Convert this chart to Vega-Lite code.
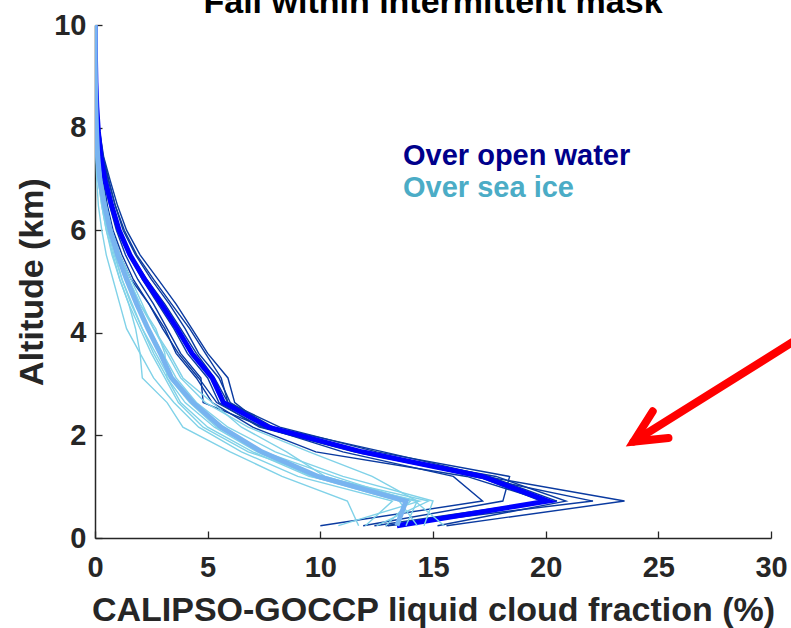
{
"$schema":"https://vega.github.io/schema/vega-lite/v6.json",
"width":676,"height":513,
"autosize":{"type":"none"},
"padding":{"left":95,"top":25,"right":20,"bottom":90},
"background":"white",
"title":{"text":"Fall within intermittent mask","fontSize":34,"font":"Liberation Sans","fontWeight":"bold","color":"#000000","offset":0,"dy":9,"anchor":"middle","frame":"group"},
"config":{"view":{"stroke":null},
 "axis":{"grid":false,"domainColor":"#262626","domainWidth":1.5,"tickColor":"#262626","tickWidth":1.3,"labelFont":"Liberation Sans","labelFontWeight":"bold","labelColor":"#262626","titleFont":"Liberation Sans","titleFontWeight":"bold","titleColor":"#262626","labelFlush":false,"labelOverlap":false,"labelBound":false}},
"datasets":{
"wthin":[
{"id":"D1","alt":0.24,"f":10.0},{"id":"D1","alt":0.72,"f":17.2},{"id":"D1","alt":1.2,"f":15.9},{"id":"D1","alt":1.68,"f":11.0},{"id":"D1","alt":2.16,"f":7.5},{"id":"D1","alt":2.64,"f":4.8},{"id":"D1","alt":3.12,"f":4.7},{"id":"D1","alt":3.6,"f":3.8},{"id":"D1","alt":4.08,"f":3.2},{"id":"D1","alt":4.56,"f":2.6},{"id":"D1","alt":5.04,"f":1.9},{"id":"D1","alt":5.52,"f":1.35},{"id":"D1","alt":6.0,"f":0.95},{"id":"D1","alt":6.48,"f":0.65},{"id":"D1","alt":6.96,"f":0.42},{"id":"D1","alt":7.44,"f":0.26},{"id":"D1","alt":7.92,"f":0.15},{"id":"D1","alt":8.4,"f":0.08},{"id":"D1","alt":8.88,"f":0.04},{"id":"D1","alt":9.36,"f":0.02},{"id":"D1","alt":9.84,"f":0.01},{"id":"D1","alt":10.32,"f":0.01},
{"id":"D2","alt":0.24,"f":11.9},{"id":"D2","alt":0.72,"f":18.1},{"id":"D2","alt":1.2,"f":18.4},{"id":"D2","alt":1.68,"f":12.5},{"id":"D2","alt":2.16,"f":8.2},{"id":"D2","alt":2.64,"f":5.9},{"id":"D2","alt":3.12,"f":5.6},{"id":"D2","alt":3.6,"f":4.9},{"id":"D2","alt":4.08,"f":4.2},{"id":"D2","alt":4.56,"f":3.4},{"id":"D2","alt":5.04,"f":2.6},{"id":"D2","alt":5.52,"f":1.85},{"id":"D2","alt":6.0,"f":1.3},{"id":"D2","alt":6.48,"f":0.9},{"id":"D2","alt":6.96,"f":0.6},{"id":"D2","alt":7.44,"f":0.34},{"id":"D2","alt":7.92,"f":0.18},{"id":"D2","alt":8.4,"f":0.09},{"id":"D2","alt":8.88,"f":0.05},{"id":"D2","alt":9.36,"f":0.02},{"id":"D2","alt":9.84,"f":0.01},{"id":"D2","alt":10.32,"f":0.01},
{"id":"D3","alt":0.24,"f":12.9},{"id":"D3","alt":0.72,"f":20.5},{"id":"D3","alt":1.2,"f":17.5},{"id":"D3","alt":1.68,"f":12.8},{"id":"D3","alt":2.16,"f":7.9},{"id":"D3","alt":2.64,"f":6.0},{"id":"D3","alt":3.12,"f":5.5},{"id":"D3","alt":3.6,"f":4.6},{"id":"D3","alt":4.08,"f":4.0},{"id":"D3","alt":4.56,"f":3.3},{"id":"D3","alt":5.04,"f":2.5},{"id":"D3","alt":5.52,"f":1.8},{"id":"D3","alt":6.0,"f":1.25},{"id":"D3","alt":6.48,"f":0.9},{"id":"D3","alt":6.96,"f":0.62},{"id":"D3","alt":7.44,"f":0.36},{"id":"D3","alt":7.92,"f":0.2},{"id":"D3","alt":8.4,"f":0.1},{"id":"D3","alt":8.88,"f":0.05},{"id":"D3","alt":9.36,"f":0.03},{"id":"D3","alt":9.84,"f":0.01},{"id":"D3","alt":10.32,"f":0.01},
{"id":"D4","alt":0.24,"f":15.2},{"id":"D4","alt":0.72,"f":20.9},{"id":"D4","alt":1.2,"f":17.8},{"id":"D4","alt":1.68,"f":11.6},{"id":"D4","alt":2.16,"f":7.4},{"id":"D4","alt":2.64,"f":5.4},{"id":"D4","alt":3.12,"f":4.6},{"id":"D4","alt":3.6,"f":3.7},{"id":"D4","alt":4.08,"f":3.0},{"id":"D4","alt":4.56,"f":2.4},{"id":"D4","alt":5.04,"f":1.7},{"id":"D4","alt":5.52,"f":1.2},{"id":"D4","alt":6.0,"f":0.8},{"id":"D4","alt":6.48,"f":0.55},{"id":"D4","alt":6.96,"f":0.38},{"id":"D4","alt":7.44,"f":0.22},{"id":"D4","alt":7.92,"f":0.13},{"id":"D4","alt":8.4,"f":0.07},{"id":"D4","alt":8.88,"f":0.04},{"id":"D4","alt":9.36,"f":0.02},{"id":"D4","alt":9.84,"f":0.01},{"id":"D4","alt":10.32,"f":0.01},
{"id":"D5","alt":0.24,"f":15.6},{"id":"D5","alt":0.72,"f":23.5},{"id":"D5","alt":1.2,"f":17.3},{"id":"D5","alt":1.68,"f":11.8},{"id":"D5","alt":2.16,"f":7.8},{"id":"D5","alt":2.64,"f":5.9},{"id":"D5","alt":3.12,"f":5.3},{"id":"D5","alt":3.6,"f":4.5},{"id":"D5","alt":4.08,"f":3.8},{"id":"D5","alt":4.56,"f":3.1},{"id":"D5","alt":5.04,"f":2.3},{"id":"D5","alt":5.52,"f":1.6},{"id":"D5","alt":6.0,"f":1.1},{"id":"D5","alt":6.48,"f":0.8},{"id":"D5","alt":6.96,"f":0.55},{"id":"D5","alt":7.44,"f":0.3},{"id":"D5","alt":7.92,"f":0.17},{"id":"D5","alt":8.4,"f":0.09},{"id":"D5","alt":8.88,"f":0.05},{"id":"D5","alt":9.36,"f":0.02},{"id":"D5","alt":9.84,"f":0.01},{"id":"D5","alt":10.32,"f":0.01},
{"id":"D6","alt":0.24,"f":13.0},{"id":"D6","alt":0.72,"f":22.1},{"id":"D6","alt":1.2,"f":16.8},{"id":"D6","alt":1.68,"f":12.0},{"id":"D6","alt":2.16,"f":7.6},{"id":"D6","alt":2.64,"f":6.2},{"id":"D6","alt":3.12,"f":5.9},{"id":"D6","alt":3.6,"f":5.0},{"id":"D6","alt":4.08,"f":4.3},{"id":"D6","alt":4.56,"f":3.6},{"id":"D6","alt":5.04,"f":2.8},{"id":"D6","alt":5.52,"f":2.0},{"id":"D6","alt":6.0,"f":1.4},{"id":"D6","alt":6.48,"f":1.0},{"id":"D6","alt":6.96,"f":0.68},{"id":"D6","alt":7.44,"f":0.38},{"id":"D6","alt":7.92,"f":0.21},{"id":"D6","alt":8.4,"f":0.1},{"id":"D6","alt":8.88,"f":0.05},{"id":"D6","alt":9.36,"f":0.03},{"id":"D6","alt":9.84,"f":0.01},{"id":"D6","alt":10.32,"f":0.01},
{"id":"D7","alt":0.24,"f":12.4},{"id":"D7","alt":0.72,"f":20.0},{"id":"D7","alt":1.2,"f":16.5},{"id":"D7","alt":1.68,"f":9.8},{"id":"D7","alt":2.16,"f":7.0},{"id":"D7","alt":2.64,"f":5.2},{"id":"D7","alt":3.12,"f":4.5},{"id":"D7","alt":3.6,"f":3.6},{"id":"D7","alt":4.08,"f":3.1},{"id":"D7","alt":4.56,"f":2.4},{"id":"D7","alt":5.04,"f":1.6},{"id":"D7","alt":5.52,"f":1.1},{"id":"D7","alt":6.0,"f":0.75},{"id":"D7","alt":6.48,"f":0.5},{"id":"D7","alt":6.96,"f":0.33},{"id":"D7","alt":7.44,"f":0.2},{"id":"D7","alt":7.92,"f":0.11},{"id":"D7","alt":8.4,"f":0.06},{"id":"D7","alt":8.88,"f":0.03},{"id":"D7","alt":9.36,"f":0.02},{"id":"D7","alt":9.84,"f":0.01},{"id":"D7","alt":10.32,"f":0.01},
{"id":"D8","alt":0.24,"f":13.6},{"id":"D8","alt":0.72,"f":19.8},{"id":"D8","alt":1.2,"f":17.0},{"id":"D8","alt":1.68,"f":11.5},{"id":"D8","alt":2.16,"f":7.3},{"id":"D8","alt":2.64,"f":5.5},{"id":"D8","alt":3.12,"f":5.0},{"id":"D8","alt":3.6,"f":4.1},{"id":"D8","alt":4.08,"f":3.5},{"id":"D8","alt":4.56,"f":2.8},{"id":"D8","alt":5.04,"f":2.1},{"id":"D8","alt":5.52,"f":1.5},{"id":"D8","alt":6.0,"f":1.0},{"id":"D8","alt":6.48,"f":0.7},{"id":"D8","alt":6.96,"f":0.48},{"id":"D8","alt":7.44,"f":0.28},{"id":"D8","alt":7.92,"f":0.15},{"id":"D8","alt":8.4,"f":0.08},{"id":"D8","alt":8.88,"f":0.04},{"id":"D8","alt":9.36,"f":0.02},{"id":"D8","alt":9.84,"f":0.01},{"id":"D8","alt":10.32,"f":0.01}
],
"wmean":[
{"alt":0.24,"f":13.4},{"alt":0.72,"f":20.1},{"alt":1.2,"f":17.2},{"alt":1.68,"f":11.85},{"alt":2.16,"f":7.7},{"alt":2.64,"f":5.7},{"alt":3.12,"f":5.2},{"alt":3.6,"f":4.3},{"alt":4.08,"f":3.65},{"alt":4.56,"f":2.95},{"alt":5.04,"f":2.2},{"alt":5.52,"f":1.55},{"alt":6.0,"f":1.07},{"alt":6.48,"f":0.74},{"alt":6.96,"f":0.45},{"alt":7.44,"f":0.26},{"alt":7.92,"f":0.15},{"alt":8.4,"f":0.08},{"alt":8.88,"f":0.04},{"alt":9.36,"f":0.02},{"alt":9.84,"f":0.01},{"alt":10.32,"f":0.01}
],
"ithin":[
{"id":"L1","alt":0.24,"f":11.7},{"id":"L1","alt":0.72,"f":11.2},{"id":"L1","alt":1.2,"f":8.3},{"id":"L1","alt":1.68,"f":6.0},{"id":"L1","alt":2.16,"f":3.9},{"id":"L1","alt":2.64,"f":3.2},{"id":"L1","alt":3.12,"f":2.1},{"id":"L1","alt":3.6,"f":2.0},{"id":"L1","alt":4.08,"f":1.8},{"id":"L1","alt":4.56,"f":1.5},{"id":"L1","alt":5.04,"f":1.1},{"id":"L1","alt":5.52,"f":0.8},{"id":"L1","alt":6.0,"f":0.5},{"id":"L1","alt":6.48,"f":0.3},{"id":"L1","alt":6.96,"f":0.15},{"id":"L1","alt":7.44,"f":0.08},{"id":"L1","alt":7.92,"f":0.04},{"id":"L1","alt":8.4,"f":0.02},{"id":"L1","alt":8.88,"f":0.01},{"id":"L1","alt":9.36,"f":0.01},{"id":"L1","alt":9.84,"f":0.0},{"id":"L1","alt":10.32,"f":0.0},
{"id":"L2","alt":0.24,"f":10.8},{"id":"L2","alt":0.72,"f":14.4},{"id":"L2","alt":1.2,"f":9.5},{"id":"L2","alt":1.68,"f":7.0},{"id":"L2","alt":2.16,"f":5.0},{"id":"L2","alt":2.64,"f":3.8},{"id":"L2","alt":3.12,"f":3.2},{"id":"L2","alt":3.6,"f":3.1},{"id":"L2","alt":4.08,"f":2.7},{"id":"L2","alt":4.56,"f":2.0},{"id":"L2","alt":5.04,"f":1.5},{"id":"L2","alt":5.52,"f":1.05},{"id":"L2","alt":6.0,"f":0.7},{"id":"L2","alt":6.48,"f":0.45},{"id":"L2","alt":6.96,"f":0.25},{"id":"L2","alt":7.44,"f":0.13},{"id":"L2","alt":7.92,"f":0.07},{"id":"L2","alt":8.4,"f":0.04},{"id":"L2","alt":8.88,"f":0.02},{"id":"L2","alt":9.36,"f":0.01},{"id":"L2","alt":9.84,"f":0.0},{"id":"L2","alt":10.32,"f":0.0},
{"id":"L3","alt":0.24,"f":14.6},{"id":"L3","alt":0.72,"f":15.0},{"id":"L3","alt":1.2,"f":11.0},{"id":"L3","alt":1.68,"f":8.0},{"id":"L3","alt":2.16,"f":5.9},{"id":"L3","alt":2.64,"f":4.5},{"id":"L3","alt":3.12,"f":3.6},{"id":"L3","alt":3.6,"f":3.0},{"id":"L3","alt":4.08,"f":2.4},{"id":"L3","alt":4.56,"f":1.9},{"id":"L3","alt":5.04,"f":1.5},{"id":"L3","alt":5.52,"f":1.05},{"id":"L3","alt":6.0,"f":0.7},{"id":"L3","alt":6.48,"f":0.4},{"id":"L3","alt":6.96,"f":0.2},{"id":"L3","alt":7.44,"f":0.1},{"id":"L3","alt":7.92,"f":0.05},{"id":"L3","alt":8.4,"f":0.03},{"id":"L3","alt":8.88,"f":0.01},{"id":"L3","alt":9.36,"f":0.01},{"id":"L3","alt":9.84,"f":0.0},{"id":"L3","alt":10.32,"f":0.0},
{"id":"L4","alt":0.24,"f":15.5},{"id":"L4","alt":0.72,"f":14.2},{"id":"L4","alt":1.2,"f":10.2},{"id":"L4","alt":1.68,"f":8.5},{"id":"L4","alt":2.16,"f":6.5},{"id":"L4","alt":2.64,"f":5.2},{"id":"L4","alt":3.12,"f":3.9},{"id":"L4","alt":3.6,"f":3.3},{"id":"L4","alt":4.08,"f":2.6},{"id":"L4","alt":4.56,"f":2.1},{"id":"L4","alt":5.04,"f":1.6},{"id":"L4","alt":5.52,"f":1.1},{"id":"L4","alt":6.0,"f":0.75},{"id":"L4","alt":6.48,"f":0.5},{"id":"L4","alt":6.96,"f":0.3},{"id":"L4","alt":7.44,"f":0.15},{"id":"L4","alt":7.92,"f":0.08},{"id":"L4","alt":8.4,"f":0.04},{"id":"L4","alt":8.88,"f":0.02},{"id":"L4","alt":9.36,"f":0.01},{"id":"L4","alt":9.84,"f":0.0},{"id":"L4","alt":10.32,"f":0.0},
{"id":"L5","alt":0.24,"f":12.9},{"id":"L5","alt":0.72,"f":14.0},{"id":"L5","alt":1.2,"f":10.6},{"id":"L5","alt":1.68,"f":7.5},{"id":"L5","alt":2.16,"f":5.4},{"id":"L5","alt":2.64,"f":4.2},{"id":"L5","alt":3.12,"f":3.3},{"id":"L5","alt":3.6,"f":2.7},{"id":"L5","alt":4.08,"f":2.1},{"id":"L5","alt":4.56,"f":1.65},{"id":"L5","alt":5.04,"f":1.2},{"id":"L5","alt":5.52,"f":0.85},{"id":"L5","alt":6.0,"f":0.55},{"id":"L5","alt":6.48,"f":0.35},{"id":"L5","alt":6.96,"f":0.18},{"id":"L5","alt":7.44,"f":0.09},{"id":"L5","alt":7.92,"f":0.05},{"id":"L5","alt":8.4,"f":0.02},{"id":"L5","alt":8.88,"f":0.01},{"id":"L5","alt":9.36,"f":0.01},{"id":"L5","alt":9.84,"f":0.0},{"id":"L5","alt":10.32,"f":0.0},
{"id":"L6","alt":0.24,"f":14.3},{"id":"L6","alt":0.72,"f":13.5},{"id":"L6","alt":1.2,"f":9.6},{"id":"L6","alt":1.68,"f":7.2},{"id":"L6","alt":2.16,"f":5.3},{"id":"L6","alt":2.64,"f":4.0},{"id":"L6","alt":3.12,"f":3.2},{"id":"L6","alt":3.6,"f":2.6},{"id":"L6","alt":4.08,"f":2.1},{"id":"L6","alt":4.56,"f":1.6},{"id":"L6","alt":5.04,"f":1.2},{"id":"L6","alt":5.52,"f":0.9},{"id":"L6","alt":6.0,"f":0.6},{"id":"L6","alt":6.48,"f":0.35},{"id":"L6","alt":6.96,"f":0.2},{"id":"L6","alt":7.44,"f":0.1},{"id":"L6","alt":7.92,"f":0.05},{"id":"L6","alt":8.4,"f":0.03},{"id":"L6","alt":8.88,"f":0.01},{"id":"L6","alt":9.36,"f":0.01},{"id":"L6","alt":9.84,"f":0.0},{"id":"L6","alt":10.32,"f":0.0},
{"id":"L7","alt":0.24,"f":12.5},{"id":"L7","alt":0.72,"f":14.8},{"id":"L7","alt":1.2,"f":10.0},{"id":"L7","alt":1.68,"f":6.8},{"id":"L7","alt":2.16,"f":4.8},{"id":"L7","alt":2.64,"f":3.7},{"id":"L7","alt":3.12,"f":3.1},{"id":"L7","alt":3.6,"f":2.5},{"id":"L7","alt":4.08,"f":2.0},{"id":"L7","alt":4.56,"f":1.5},{"id":"L7","alt":5.04,"f":1.1},{"id":"L7","alt":5.52,"f":0.75},{"id":"L7","alt":6.0,"f":0.5},{"id":"L7","alt":6.48,"f":0.3},{"id":"L7","alt":6.96,"f":0.15},{"id":"L7","alt":7.44,"f":0.08},{"id":"L7","alt":7.92,"f":0.04},{"id":"L7","alt":8.4,"f":0.02},{"id":"L7","alt":8.88,"f":0.01},{"id":"L7","alt":9.36,"f":0.01},{"id":"L7","alt":9.84,"f":0.0},{"id":"L7","alt":10.32,"f":0.0},
{"id":"L8","alt":0.24,"f":13.8},{"id":"L8","alt":0.72,"f":14.3},{"id":"L8","alt":1.2,"f":12.3},{"id":"L8","alt":1.68,"f":9.5},{"id":"L8","alt":2.16,"f":6.8},{"id":"L8","alt":2.64,"f":4.9},{"id":"L8","alt":3.12,"f":3.8},{"id":"L8","alt":3.6,"f":3.2},{"id":"L8","alt":4.08,"f":2.6},{"id":"L8","alt":4.56,"f":2.0},{"id":"L8","alt":5.04,"f":1.5},{"id":"L8","alt":5.52,"f":1.1},{"id":"L8","alt":6.0,"f":0.7},{"id":"L8","alt":6.48,"f":0.45},{"id":"L8","alt":6.96,"f":0.25},{"id":"L8","alt":7.44,"f":0.13},{"id":"L8","alt":7.92,"f":0.07},{"id":"L8","alt":8.4,"f":0.04},{"id":"L8","alt":8.88,"f":0.02},{"id":"L8","alt":9.36,"f":0.01},{"id":"L8","alt":9.84,"f":0.0},{"id":"L8","alt":10.32,"f":0.0},
{"id":"L9","alt":0.24,"f":12.0},{"id":"L9","alt":0.72,"f":13.2},{"id":"L9","alt":1.2,"f":9.0},{"id":"L9","alt":1.68,"f":6.5},{"id":"L9","alt":2.16,"f":4.6},{"id":"L9","alt":2.64,"f":3.5},{"id":"L9","alt":3.12,"f":2.6},{"id":"L9","alt":3.6,"f":2.0},{"id":"L9","alt":4.08,"f":1.4},{"id":"L9","alt":4.56,"f":1.1},{"id":"L9","alt":5.04,"f":0.8},{"id":"L9","alt":5.52,"f":0.5},{"id":"L9","alt":6.0,"f":0.3},{"id":"L9","alt":6.48,"f":0.15},{"id":"L9","alt":6.96,"f":0.08},{"id":"L9","alt":7.44,"f":0.04},{"id":"L9","alt":7.92,"f":0.02},{"id":"L9","alt":8.4,"f":0.01},{"id":"L9","alt":8.88,"f":0.01},{"id":"L9","alt":9.36,"f":0.0},{"id":"L9","alt":9.84,"f":0.0},{"id":"L9","alt":10.32,"f":0.0}
],
"imean":[
{"alt":0.24,"f":13.4},{"alt":0.72,"f":13.8},{"alt":1.2,"f":9.9},{"alt":1.68,"f":7.4},{"alt":2.16,"f":5.6},{"alt":2.64,"f":4.35},{"alt":3.12,"f":3.4},{"alt":3.6,"f":2.9},{"alt":4.08,"f":2.35},{"alt":4.56,"f":1.85},{"alt":5.04,"f":1.4},{"alt":5.52,"f":1.0},{"alt":6.0,"f":0.67},{"alt":6.48,"f":0.42},{"alt":6.96,"f":0.22},{"alt":7.44,"f":0.12},{"alt":7.92,"f":0.07},{"alt":8.4,"f":0.04},{"alt":8.88,"f":0.02},{"alt":9.36,"f":0.01},{"alt":9.84,"f":0.01},{"alt":10.32,"f":0.01}
],
"arrow":[
{"seg":"shaft","o":1,"f":23.9,"alt":1.88},{"seg":"shaft","o":2,"f":31.29,"alt":3.91},
{"seg":"head","o":1,"f":24.75,"alt":2.47},{"seg":"head","o":2,"f":23.9,"alt":1.88},{"seg":"head","o":3,"f":25.45,"alt":1.95}
],
"labels":[
{"label":"Over open water","grp":"water","f":13.67,"alt":7.27},
{"label":"Over sea ice","grp":"ice","f":13.67,"alt":6.65}
]
},
"encoding":{
 "x":{"field":"f","type":"quantitative","scale":{"domain":[0,30],"nice":false,"zero":false},
  "axis":{"values":[0,5,10,15,20,25,30],"title":"CALIPSO-GOCCP liquid cloud fraction (%)","labelFontSize":29,"titleFontSize":34,"tickSize":-7,"labelPadding":22,"titlePadding":11}},
 "y":{"field":"alt","type":"quantitative","scale":{"domain":[0,10],"nice":false,"zero":false},
  "axis":{"values":[0,2,4,6,8,10],"title":"Altitude (km)","labelFontSize":29,"titleFontSize":34,"tickSize":-7,"labelPadding":16,"titlePadding":4}}
},
"layer":[
 {"data":{"name":"wthin"},"mark":{"type":"line","clip":true,"color":"#0a3aa0","strokeWidth":1.4},
  "encoding":{"detail":{"field":"id"},"order":{"field":"alt","type":"quantitative"}}},
 {"data":{"name":"wmean"},"mark":{"type":"line","clip":true,"color":"#0000ff","strokeWidth":5,"strokeJoin":"miter"},
  "encoding":{"order":{"field":"alt","type":"quantitative"}}},
 {"data":{"name":"ithin"},"mark":{"type":"line","clip":true,"color":"#80d2e8","strokeWidth":1.4},
  "encoding":{"detail":{"field":"id"},"order":{"field":"alt","type":"quantitative"}}},
 {"data":{"name":"imean"},"mark":{"type":"line","clip":true,"color":"#78b4f0","strokeWidth":5,"strokeJoin":"miter"},
  "encoding":{"order":{"field":"alt","type":"quantitative"}}},
 {"data":{"name":"arrow"},"mark":{"type":"line","clip":false,"color":"#ff0000","strokeWidth":8,"strokeCap":"round","strokeJoin":"miter"},
  "encoding":{"detail":{"field":"seg"},"order":{"field":"o","type":"quantitative"}}},
 {"data":{"name":"labels"},"mark":{"type":"text","align":"left","baseline":"alphabetic","font":"Liberation Sans","fontWeight":"bold","fontSize":29},
  "encoding":{"text":{"field":"label"},"color":{"field":"grp","type":"nominal","scale":{"domain":["water","ice"],"range":["#00008b","#4bacc6"]},"legend":null}}}
]
}
